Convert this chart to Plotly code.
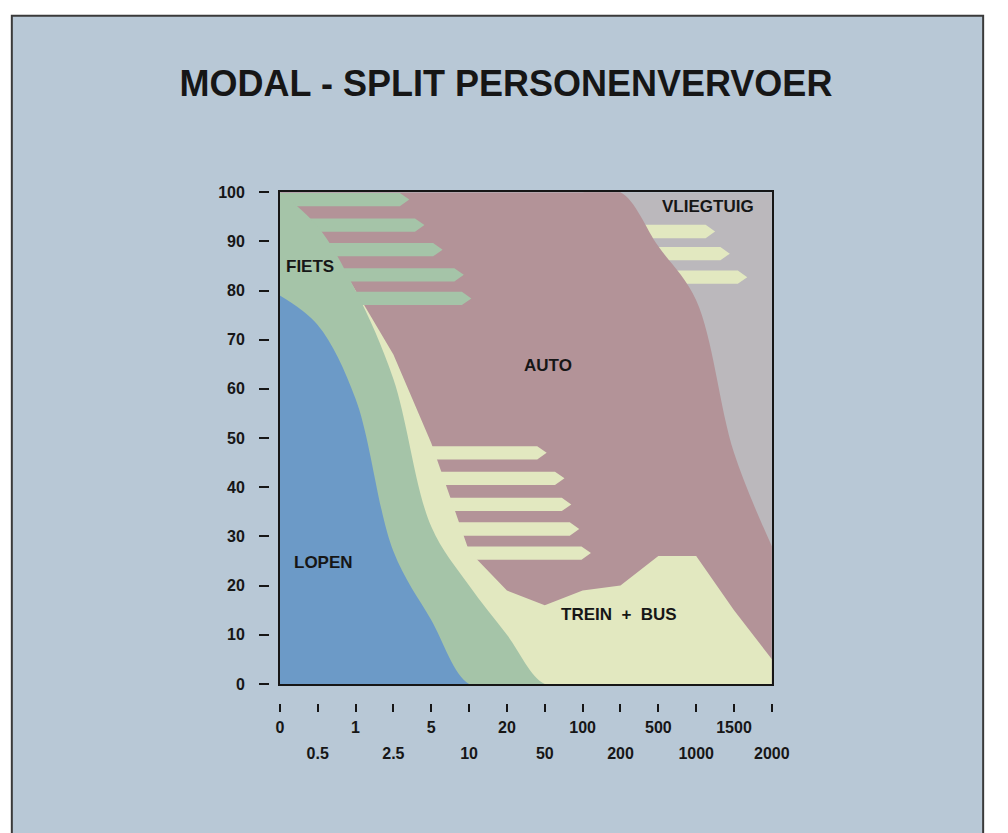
import numpy as np
import plotly.graph_objects as go

# Distance classes (km) along the horizontal axis
distances = ["0", "0.5", "1", "2.5", "5", "10", "20", "50",
             "100", "200", "500", "1000", "1500", "2000"]

# Share of trips per transport mode (%) for each distance class
lopen = [79, 73, 58, 27, 13, 0, 0, 0, 0, 0, 0, 0, 0, 0]
fiets = [21, 20, 22, 35, 19, 20, 10, 0, 0, 0, 0, 0, 0, 0]
trein_bus = [0, 0, 0, 5, 17, 7, 9, 16, 19, 20, 26, 26, 15, 5]
auto = [0, 7, 20, 33, 51, 73, 81, 84, 81, 80, 63, 52, 32, 23]
vliegtuig = [0, 0, 0, 0, 0, 0, 0, 0, 0, 0, 11, 22, 53, 72]

# Shift bands: level (%) and how far (distance class index) each reaches
fiets_shift_level = [98.5, 93.3, 88.3, 83.2, 78.4]
fiets_shift_reach = [3.42, 3.82, 4.30, 4.86, 5.06]
ov_shift_level = [47.0, 41.8, 36.5, 31.5, 26.6]
ov_shift_reach = [7.05, 7.52, 7.70, 7.91, 8.22]
lucht_shift_level = [92.0, 87.5, 82.7]
lucht_shift_reach = [11.50, 11.89, 12.35]

C_BG = "#b8c8d6"
C_LOPEN = "#6c9ac7"
C_FIETS = "#a5c4a8"
C_OV = "#e2e8c0"
C_AUTO = "#b39398"
C_LUCHT = "#bbb8bc"
INK = "#161616"
FONT = "Liberation Sans, Arial, Helvetica, sans-serif"

W, H = 1008, 833
PX0, PX1, PY0, PY1 = 282, 785, 188, 690   # plot frame in pixels

x = np.arange(len(distances))
top_lopen = np.array(lopen, float)
top_fiets = top_lopen + fiets
top_ov = top_fiets + trein_bus
top_auto = top_ov + auto
top_all = top_auto + vliegtuig


def band(y, color, shape):
    return go.Scatter(x=x, y=y, mode="lines", fill="tozeroy",
                      line=dict(color=color, width=0, shape=shape),
                      fillcolor=color, hoverinfo="skip", showlegend=False)


def shifts(levels, reach, start, color, half=1.35, point=0.25):
    xs, ys = [], []
    for lvl, tip in zip(levels, reach):
        xs += [start, tip - point, tip, tip - point, start, start, None]
        ys += [lvl - half, lvl - half, lvl, lvl + half, lvl + half, lvl - half, None]
    return go.Scatter(x=xs, y=ys, mode="lines", fill="toself",
                      line=dict(color=color, width=0), fillcolor=color,
                      hoverinfo="skip", showlegend=False)


fig = go.Figure()
fig.add_trace(band(top_all, C_LUCHT, "linear"))
fig.add_trace(shifts(lucht_shift_level, lucht_shift_reach, 9.0, C_OV))
fig.add_trace(band(top_auto, C_AUTO, "spline"))
fig.add_trace(shifts(ov_shift_level, ov_shift_reach, 3.0, C_OV))
fig.add_trace(band(top_ov, C_OV, "linear"))
fig.add_trace(shifts(fiets_shift_level, fiets_shift_reach, 0.0, C_FIETS))
fig.add_trace(band(top_fiets, C_FIETS, "spline"))
fig.add_trace(band(top_lopen, C_LOPEN, "spline"))

# carriers for the detached tick axes
for xa, ya in (("x", "y2"), ("x2", "y"), ("x3", "y")):
    fig.add_trace(go.Scatter(x=[0], y=[0], xaxis=xa, yaxis=ya, mode="markers",
                             marker=dict(opacity=0), hoverinfo="skip",
                             showlegend=False))

xdom = [PX0 / W, PX1 / W]
ydom = [1 - PY1 / H, 1 - PY0 / H]
tickfont = dict(family=FONT, size=16, color=INK, weight="bold")

even_text = [t if i % 2 == 0 else "" for i, t in enumerate(distances)]
odd_idx = [i for i in range(len(distances)) if i % 2 == 1]

fig.update_layout(
    width=W, height=H,
    margin=dict(l=0, r=0, t=0, b=0),
    paper_bgcolor="white",
    plot_bgcolor=C_LUCHT,
    showlegend=False,
    title=dict(text="MODAL - SPLIT PERSONENVERVOER", x=506 / W, xanchor="center",
               y=1 - 83 / H, yanchor="middle",
               font=dict(family=FONT, size=36, color=INK, weight="bold")),
    xaxis=dict(domain=xdom, range=[0, 13], showgrid=False, zeroline=False,
               showticklabels=False, ticks="", showline=True, mirror=True,
               linecolor=INK, linewidth=2, fixedrange=True),
    yaxis=dict(domain=ydom, range=[0, 100], showgrid=False, zeroline=False,
               showticklabels=False, ticks="", showline=True, mirror=True,
               linecolor=INK, linewidth=2, fixedrange=True),
    yaxis2=dict(overlaying="y", anchor="free", position=271 / W, side="left",
                range=[0, 100], tickvals=list(range(0, 101, 10)),
                ticks="outside", ticklen=10, tickwidth=2, tickcolor=INK,
                showline=False, showgrid=False, zeroline=False,
                tickfont=tickfont, ticklabelstandoff=11, fixedrange=True),
    xaxis2=dict(overlaying="x", anchor="free", position=1 - 709 / H, side="bottom",
                range=[0, 13], tickvals=list(x), ticktext=even_text,
                ticks="outside", ticklen=8, tickwidth=2, tickcolor=INK,
                showline=False, showgrid=False, zeroline=False,
                tickfont=tickfont, ticklabelstandoff=2, fixedrange=True),
    xaxis3=dict(overlaying="x", anchor="free", position=1 - 709 / H, side="bottom",
                range=[0, 13], tickvals=odd_idx,
                ticktext=[distances[i] for i in odd_idx],
                ticks="", showline=False, showgrid=False, zeroline=False,
                tickfont=tickfont, ticklabelstandoff=39, fixedrange=True),
)

# page frame
fig.add_shape(type="rect", xref="paper", yref="paper",
              x0=8 / W, x1=1001 / W, y0=-0.02, y1=1 - 8 / H,
              fillcolor=C_BG, line=dict(color="#3a3a3a", width=2), layer="below")

labels = [
    ("FIETS", 0.10, 84.8, "left"),
    ("LOPEN", 1.15, 24.7, "center"),
    ("AUTO", 7.08, 64.7, "center"),
    ("VLIEGTUIG", 11.32, 97.1, "center"),
    ("TREIN\u00a0\u00a0+\u00a0\u00a0BUS", 8.97, 14.2, "center"),
]
for text, lx, ly, anchor in labels:
    fig.add_annotation(x=lx, y=ly, xref="x", yref="y", text=text,
                       showarrow=False, xanchor=anchor, yanchor="middle",
                       font=dict(family=FONT, size=17, color=INK, weight="bold"))

fig.write_html("out.html")
